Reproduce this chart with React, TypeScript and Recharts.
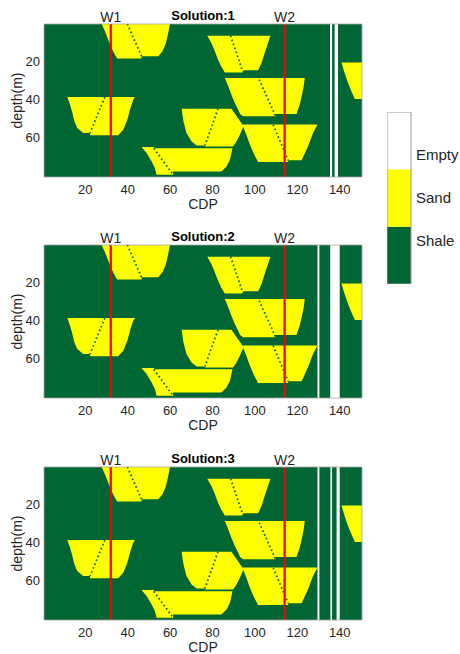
import React from 'react';
import {
  ComposedChart,
  Scatter,
  XAxis,
  YAxis,
  ReferenceArea,
  ReferenceLine,
  Label,
  Polygon,
  BarChart,
  Bar,
} from 'recharts';

const SHALE_GREEN = '#006633';
const SAND_YELLOW = '#FFFF00';
const EMPTY_WHITE = '#FFFFFF';
const WELL_RED = '#FF0000';
const TEXT_COLOR = '#262626';
const FONT = '"Liberation Sans", Arial, Helvetica, sans-serif';

// Grid extent: 150 CDP columns x 80 one-metre depth rows
const CDP_RANGE: [number, number] = [0.5, 150.5];
const DEPTH_RANGE: [number, number] = [0.5, 80.5];
const CDP_TICKS = [20, 40, 60, 80, 100, 120, 140];
const DEPTH_TICKS = [20, 40, 60];

// Sand bodies, outline vertices as [CDP, depth]
const SAND_A = [
  [27.7, 0.5], [59.9, 0.5], [59.1, 5.2], [58.0, 10.5], [56.4, 14.8], [54.4, 17.3],
  [46.5, 17.3], [46.5, 18.5], [35.0, 18.5], [33.5, 15.7], [32.1, 12.2], [30.8, 8.7], [29.3, 4.4],
];
const SAND_B = [
  [11.5, 38.7], [43.4, 38.7], [42.6, 40.1], [41.3, 44.4], [39.8, 50.5], [37.9, 55.8], [35.5, 58.7],
  [22.2, 58.7], [22.2, 57.5], [19.0, 57.5], [16.2, 54.9], [14.8, 51.4], [13.9, 47.1], [12.8, 42.7],
];
const SAND_C = [
  [46.5, 64.8], [52.5, 64.8], [52.5, 65.5], [89.4, 65.5], [88.2, 71.5], [86.6, 75.0], [84.2, 77.6],
  [61.4, 77.6], [61.4, 79.3], [53.6, 79.3], [52.8, 75.8], [51.2, 72.3], [48.9, 68.0],
];
const SAND_D = [
  [65.4, 44.8], [88.9, 44.8], [93.6, 52.3], [94.6, 54.0], [92.9, 58.4], [91.3, 61.9], [89.7, 64.5],
  [76.4, 64.5], [76.4, 64.0], [72.5, 64.0], [70.1, 61.9], [67.7, 57.5], [66.3, 51.5],
];
const SAND_E = [
  [94.0, 53.0], [129.5, 53.0], [127.4, 57.5], [125.0, 64.5], [122.0, 71.8], [115.7, 71.8],
  [115.7, 72.6], [101.5, 72.6], [99.5, 68.5], [97.6, 63.5], [96.0, 58.5],
];
const SAND_F = [
  [85.8, 28.8], [123.5, 28.8], [123.0, 33.1], [122.2, 37.5], [121.1, 42.7], [119.6, 47.6],
  [109.8, 47.6], [109.8, 48.8], [94.4, 48.8], [93.0, 47.5], [92.1, 45.3], [90.5, 41.8], [88.9, 37.5], [87.4, 33.1],
];
const SAND_G = [
  [77.5, 6.6], [107.3, 6.6], [105.9, 11.3], [104.6, 15.7], [103.1, 20.9], [101.5, 24.7],
  [94.4, 24.7], [94.4, 25.8], [85.8, 25.8], [84.1, 22.7], [82.6, 19.2], [81.1, 14.8], [79.5, 10.5],
];
const SAND_H = [
  [140.8, 20.6], [150.5, 20.6], [150.5, 39.7], [147.1, 39.7], [145.5, 35.7], [143.9, 31.4], [142.3, 26.1],
];
const SAND_BODIES = [SAND_A, SAND_B, SAND_C, SAND_D, SAND_E, SAND_F, SAND_G, SAND_H];

// Internal channel boundaries inside the sand bodies, [[CDP, depth], [CDP, depth]]
const CHANNEL_EDGES = [
  [[39.8, 0.5], [46.5, 17.3]],
  [[29.2, 38.7], [22.2, 57.5]],
  [[52.3, 65.5], [61.4, 79.3]],
  [[82.6, 44.8], [76.4, 64.0]],
  [[108.6, 53.2], [115.7, 71.8]],
  [[102.0, 29.6], [109.8, 48.8]],
  [[88.5, 6.6], [94.4, 25.8]],
];

// Wells
const WELLS = [
  { name: 'W1', cdp: 32 },
  { name: 'W2', cdp: 114 },
];

// Empty (unfilled) CDP columns for each solution, [from, to]
const EMPTY_COLUMNS_1 = [[135.4, 136.4], [137.6, 139.2]];
const EMPTY_COLUMNS_2 = [[129.5, 130.4], [135.5, 140.0]];
const EMPTY_COLUMNS_3 = [[129.5, 130.4], [135.6, 136.4], [138.5, 140.0]];

const SOLUTIONS = [
  { title: 'Solution:1', empty: EMPTY_COLUMNS_1, top: 0 },
  { title: 'Solution:2', empty: EMPTY_COLUMNS_2, top: 221 },
  { title: 'Solution:3', empty: EMPTY_COLUMNS_3, top: 443 },
];

// Facies colour bar
const FACIES_NAMES = ['Shale', 'Sand', 'Empty'];
const FACIES_KEYS = ['shale', 'sand', 'empty'];
const FACIES_COLORS = [SHALE_GREEN, SAND_YELLOW, EMPTY_WHITE];
const FACIES_TICKS = [0.75, 1.5, 2.25];

const toPoints = (verts: number[][]) => verts.map(([c, d]) => ({ c, d }));
const noMarker = () => <g />;
const fillOutline = (lp: any) => (
  <Polygon points={lp.points} fill={SAND_YELLOW} stroke="none" />
);

const tickStyle = { fill: TEXT_COLOR, fontSize: 13, fontFamily: FONT };

function SolutionPanel({ title, empty, top }: { title: string; empty: number[][]; top: number }) {
  return (
    <div style={{ position: 'absolute', left: 0, top }}>
      <ComposedChart width={370} height={213} margin={{ top: 24, right: 8, bottom: 0, left: 0 }}>
        <XAxis
          type="number"
          dataKey="c"
          domain={CDP_RANGE}
          ticks={CDP_TICKS}
          interval={0}
          allowDataOverflow
          height={36}
          tickSize={0}
          tickMargin={8}
          axisLine={false}
          tickLine={false}
          tick={tickStyle}
        >
          <Label value="CDP" position="insideBottom" offset={4} fill={TEXT_COLOR} fontSize={14} fontFamily={FONT} />
        </XAxis>
        <YAxis
          type="number"
          dataKey="d"
          domain={DEPTH_RANGE}
          reversed
          ticks={DEPTH_TICKS}
          interval={0}
          allowDataOverflow
          width={44}
          tickSize={0}
          tickMargin={4}
          axisLine={false}
          tickLine={false}
          tick={tickStyle}
        >
          <Label value="depth(m)" angle={-90} position="center" dx={-5} fill={TEXT_COLOR} fontSize={14} fontFamily={FONT} />
        </YAxis>

        <ReferenceArea
          x1={CDP_RANGE[0]}
          x2={CDP_RANGE[1]}
          y1={DEPTH_RANGE[0]}
          y2={DEPTH_RANGE[1]}
          fill={SHALE_GREEN}
          fillOpacity={1}
          stroke="none"
          ifOverflow="visible"
          zIndex={50}
          label={{ value: title, position: 'top', offset: 4.3, fill: '#000', fontSize: 13, fontWeight: 'bold', fontFamily: FONT }}
        />

        {SAND_BODIES.map((body, i) => (
          <Scatter
            key={`sand-${i}`}
            data={toPoints(body)}
            isAnimationActive={false}
            shape={noMarker}
            line={fillOutline}
            lineType="joint"
            fill={SAND_YELLOW}
            zIndex={600}
          />
        ))}

        {CHANNEL_EDGES.map(([a, b], i) => (
          <ReferenceLine
            key={`edge-${i}`}
            segment={[{ x: a[0], y: a[1] }, { x: b[0], y: b[1] }]}
            stroke={SHALE_GREEN}
            strokeWidth={1.8}
            strokeDasharray="1.6 2.6"
            ifOverflow="visible"
            zIndex={650}
          />
        ))}

        {empty.map(([from, to], i) => (
          <ReferenceArea
            key={`empty-${i}`}
            x1={from}
            x2={to}
            y1={DEPTH_RANGE[0]}
            y2={DEPTH_RANGE[1]}
            fill={EMPTY_WHITE}
            fillOpacity={1}
            stroke="none"
            ifOverflow="visible"
            zIndex={700}
          />
        ))}

        {WELLS.map((w) => (
          <ReferenceLine
            key={w.name}
            x={w.cdp}
            stroke={WELL_RED}
            strokeWidth={2.3}
            zIndex={800}
            label={{ value: w.name, position: 'top', offset: 2.5, fill: TEXT_COLOR, fontSize: 14, fontFamily: FONT }}
          />
        ))}

        <ReferenceArea
          x1={CDP_RANGE[0]}
          x2={CDP_RANGE[1]}
          y1={DEPTH_RANGE[0]}
          y2={DEPTH_RANGE[1]}
          fill="none"
          stroke="#a6a6a6"
          strokeWidth={0.8}
          ifOverflow="visible"
          zIndex={900}
        />
      </ComposedChart>
    </div>
  );
}

function FaciesColorbar() {
  const row: Record<string, number | string> = { name: 'facies' };
  FACIES_KEYS.forEach((k) => {
    row[k] = 1;
  });
  return (
    <div style={{ position: 'absolute', left: 387, top: 112 }}>
      <BarChart width={80} height={172} data={[row]} margin={{ top: 0, right: 0, bottom: 0, left: 0 }} barCategoryGap={0} barGap={0}>
        <XAxis dataKey="name" hide />
        <YAxis
          orientation="right"
          type="number"
          domain={[0, 3]}
          ticks={FACIES_TICKS}
          interval={0}
          width={56}
          tickSize={0}
          tickMargin={5}
          axisLine={false}
          tickLine={false}
          tick={{ fill: TEXT_COLOR, fontSize: 15, fontFamily: FONT }}
          tickFormatter={(v: number) => FACIES_NAMES[FACIES_TICKS.indexOf(v)] ?? ''}
        />
        {FACIES_KEYS.map((k, i) => (
          <Bar key={k} dataKey={k} stackId="facies" fill={FACIES_COLORS[i]} isAnimationActive={false} />
        ))}
        <ReferenceArea y1={0} y2={3} fill="none" stroke="#9a9a9a" strokeWidth={1} ifOverflow="visible" zIndex={900} />
      </BarChart>
    </div>
  );
}

export default function App() {
  return (
    <div
      style={{
        position: 'absolute',
        left: 0,
        top: 0,
        width: 460,
        height: 654,
        overflow: 'hidden',
        background: '#fff',
        fontFamily: FONT,
      }}
    >
      {SOLUTIONS.map((s) => (
        <SolutionPanel key={s.title} title={s.title} empty={s.empty} top={s.top} />
      ))}
      <FaciesColorbar />
    </div>
  );
}
